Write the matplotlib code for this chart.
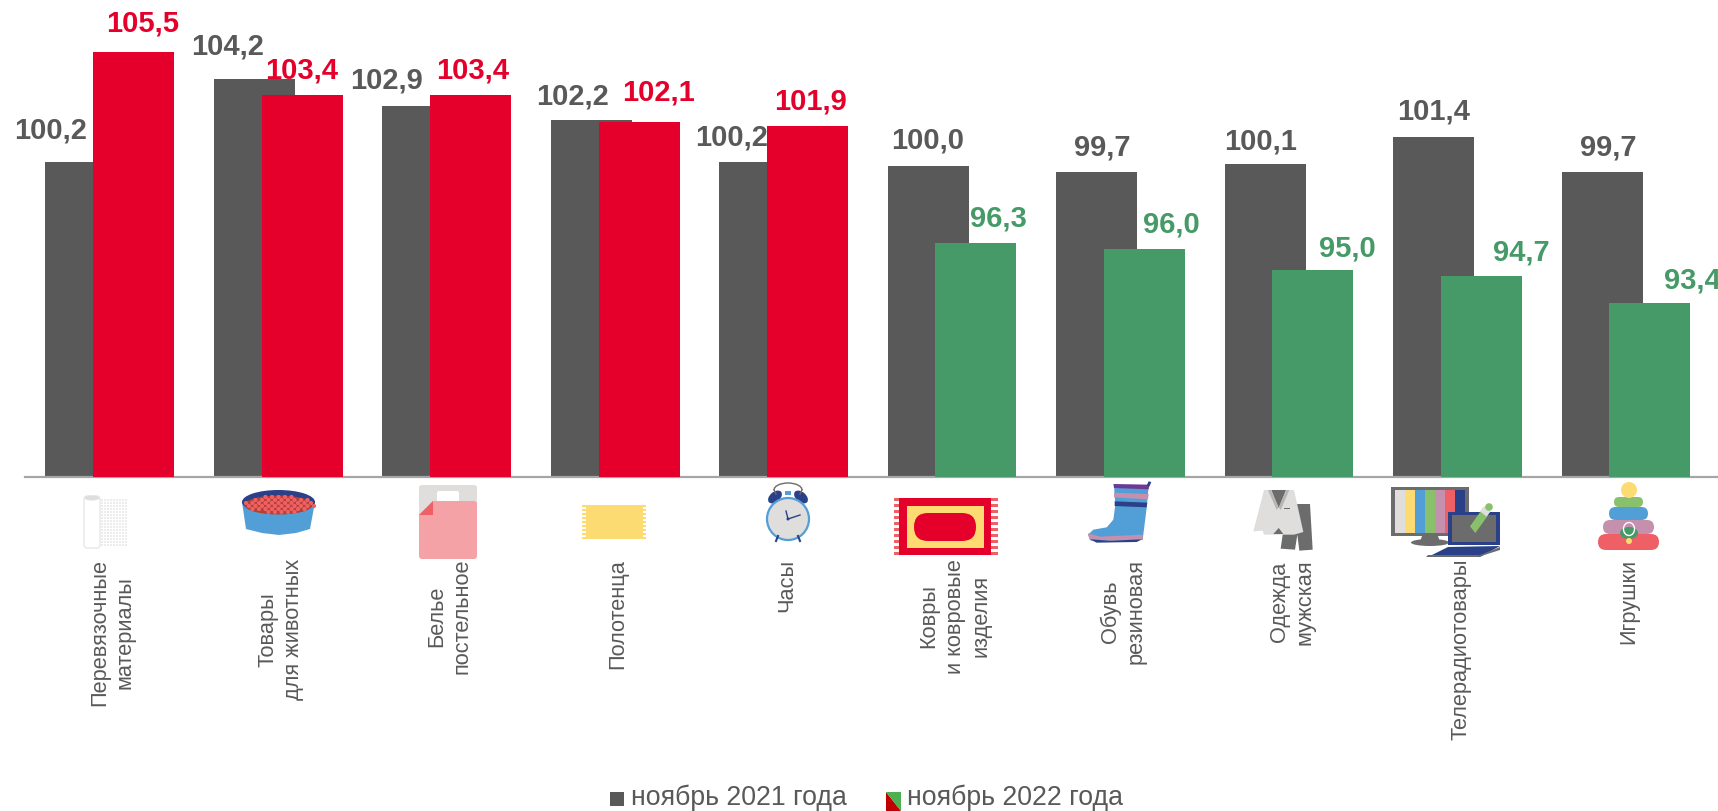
"""Индексы цен: столбцы по группам товаров, ноябрь 2021 и ноябрь 2022."""

import matplotlib

matplotlib.use("Agg")
import matplotlib.pyplot as plt
from matplotlib.patches import Arc, Circle, Ellipse, FancyBboxPatch, Polygon, Rectangle

plt.rcParams["font.family"] = ["Liberation Sans", "DejaVu Sans"]

GRAY = "#595959"
RED = "#e4002b"
GREEN = "#459a67"
BLUE = "#529fd7"
NAVY = "#2a4088"
PINK = "#c58fae"
CORAL = "#ee6065"
YELLOW = "#fddb73"
LGREEN = "#88c06b"
LGRAY = "#dfdedd"
DGRAY = "#6c6c6c"

categories = [
    "Перевязочные\nматериалы",
    "Товары\nдля животных",
    "Белье\nпостельное",
    "Полотенца",
    "Часы",
    "Ковры\nи ковровые\nизделия",
    "Обувь\nрезиновая",
    "Одежда\nмужская",
    "Телерадиотовары",
    "Игрушки",
]
values_2021 = [100.2, 104.2, 102.9, 102.2, 100.2, 100.0, 99.7, 100.1, 101.4, 99.7]
values_2022 = [105.5, 103.4, 103.4, 102.1, 101.9, 96.3, 96.0, 95.0, 94.7, 93.4]

# сдвиг подписей от центра и верха столбца, px
gray_dx = [-35, -26, -36, -18, -28, 0, 6, -4, 0, 6]
gray_dy = [31, 32, 25, 24, 24, 25, 25, 22, 25, 25]
red_dx = [9, 0, 2, 20, 3, 22, 27, 34, 40, 42]
red_dy = [28, 25, 25, 30, 25, 24, 24, 21, 23, 22]

W, H = 1718, 811
BASE_PX = 477
STEP_PX = 168.5
UNIT_PX = 20.74
Y_MIN = 85.0

fig = plt.figure(figsize=(W / 100, H / 100), dpi=100)
ax = fig.add_axes([0, (H - BASE_PX) / H, 1, BASE_PX / H])
ax.set_xlim(-109.5 / STEP_PX, (W - 109.5) / STEP_PX)
ax.set_ylim(Y_MIN, Y_MIN + BASE_PX / UNIT_PX)
ax.patch.set_alpha(0)

x = list(range(len(categories)))
bar_w = 81 / STEP_PX
shift = 24 / STEP_PX
colors_2022 = [RED if v > 100 else GREEN for v in values_2022]
ax.bar([i - shift for i in x], values_2021, bar_w, color=GRAY, zorder=2)
ax.bar([i + shift for i in x], values_2022, bar_w, color=colors_2022, zorder=3)

for i in x:
    ax.annotate(
        f"{values_2021[i]:.1f}".replace(".", ","),
        (i - shift, values_2021[i]),
        xytext=(gray_dx[i], gray_dy[i]),
        textcoords="offset pixels",
        ha="center",
        va="center",
        fontsize=21,
        fontweight="bold",
        color=GRAY,
        zorder=5,
    )
    ax.annotate(
        f"{values_2022[i]:.1f}".replace(".", ","),
        (i + shift, values_2022[i]),
        xytext=(red_dx[i], red_dy[i]),
        textcoords="offset pixels",
        ha="center",
        va="center",
        fontsize=21,
        fontweight="bold",
        color=colors_2022[i],
        zorder=5,
    )

for side in ("top", "right", "left"):
    ax.spines[side].set_visible(False)
ax.spines["bottom"].set_color("#a6a6a6")
ax.spines["bottom"].set_linewidth(1.6)
ax.spines["bottom"].set_bounds((25 - 109.5) / STEP_PX, (W - 109.5) / STEP_PX)
ax.set_yticks([])
ax.set_xticks([i + 3 / STEP_PX for i in x])
ax.set_xticklabels(
    categories,
    rotation=90,
    ha="center",
    va="top",
    multialignment="center",
    fontsize=15.7,
    color=GRAY,
    linespacing=1.3,
)
ax.tick_params(axis="x", length=0, pad=59)

# слой в пикселях: пиктограммы и легенда
ov = fig.add_axes([0, 0, 1, 1])
ov.set_xlim(0, W)
ov.set_ylim(H, 0)
ov.axis("off")
ov.patch.set_alpha(0)


def rect(x0, y0, x1, y1, color, **kw):
    ov.add_patch(Rectangle((x0, y0), x1 - x0, y1 - y0, fc=color, ec="none", **kw))


def poly(pts, color, ox=0, oy=0, k=1.0):
    ov.add_patch(Polygon([(ox + a * k, oy + b * k) for a, b in pts], fc=color, ec="none"))


def pill(x0, y0, x1, y1, color, r=None):
    r = (y1 - y0) / 2 if r is None else r
    ov.add_patch(
        FancyBboxPatch(
            (x0 + r, y0 + r), x1 - x0 - 2 * r, y1 - y0 - 2 * r,
            boxstyle=f"round,pad={r},rounding_size={r}", fc=color, ec="none",
        )
    )


# бинт
for a in range(101, 127, 3):
    for b in range(499, 546, 3):
        rect(a, b, a + 2, b + 2, "#ececec")
ov.add_patch(FancyBboxPatch((86, 498), 12, 48, boxstyle="round,pad=2,rounding_size=3", fc="white", ec="#e8e8e8", lw=1))
ov.add_patch(Ellipse((92, 498), 15, 5, fc=LGRAY, ec="none"))

# миска
poly([(242, 502), (315, 502), (310, 529), (296, 533), (279, 535), (262, 533), (246, 529)], BLUE)
ov.add_patch(Ellipse((278.5, 502), 73, 24, fc=NAVY, ec="none"))
ov.add_patch(Ellipse((278.5, 505), 68, 19, fc="#b5402f", ec="none"))
for row, (cy, half) in enumerate([(497, 14), (500, 24), (503, 30), (506, 30), (509, 24), (512, 14)]):
    n = half // 6
    for j in range(-n, n + 1):
        ov.add_patch(Circle((278.5 + j * 6.5 + (row % 2) * 3, cy), 2.1, fc=CORAL, ec="none"))

# белье
pill(419, 485, 477, 520, LGRAY, r=3)
pill(437, 491, 459, 506, "white", r=2)
ov.add_patch(
    FancyBboxPatch((422, 504), 52, 52, boxstyle="round,pad=3,rounding_size=3", fc="#f5a2a6", ec="none")
)
poly([(419, 501), (433, 501), (419, 515)], LGRAY)
poly([(419, 515), (433, 501), (433, 515)], CORAL)

# полотенце
rect(586, 505, 643, 539, YELLOW)
for b in range(505, 540, 4):
    rect(582, b, 586, b + 2, YELLOW)
    rect(643, b, 646, b + 2, YELLOW)

# часы
ov.add_patch(Arc((788, 490), 28, 14, theta1=180, theta2=360, ec=DGRAY, lw=1))
ov.plot([774, 776], [490, 494], color=DGRAY, lw=1)
ov.plot([802, 800], [490, 494], color=DGRAY, lw=1)
ov.add_patch(Ellipse((775, 497), 10, 16, angle=50, fc=NAVY, ec="none"))
ov.add_patch(Ellipse((801, 497), 10, 16, angle=-50, fc=NAVY, ec="none"))
rect(785, 491, 791, 495, BLUE)
ov.plot([778, 776], [536, 541], color=NAVY, lw=1.5)
ov.plot([798, 800], [536, 541], color=NAVY, lw=1.5)
ov.add_patch(Circle((788, 519), 21, fc=LGRAY, ec=BLUE, lw=1.6))
ov.plot([788, 786], [519, 511], color=NAVY, lw=1)
ov.plot([788, 800], [519, 515], color=NAVY, lw=1)
ov.add_patch(Circle((788, 519), 1.5, fc=NAVY, ec="none"))

# ковер
rect(899, 498, 991, 555, RED)
for b in range(498, 556, 6):
    rect(894, b, 899, b + 2.5, CORAL)
    rect(991, b, 998, b + 2.5, CORAL)
rect(907, 506, 984, 548, YELLOW)
pill(914, 513, 976, 541, RED)

# сапог (координаты кропа 3x)
ox, oy, k = 880, 478, 1 / 3
poly(
    [(702, 22), (806, 22), (800, 90), (788, 185), (632, 188), (624, 170), (640, 155),
     (680, 148), (700, 125), (706, 80)],
    BLUE, ox, oy, k,
)
poly([(700, 18), (808, 20), (806, 34), (702, 30)], "#6c3a94", ox, oy, k)
poly([(702, 44), (806, 48), (804, 64), (702, 58)], PINK, ox, oy, k)
poly([(704, 70), (802, 74), (800, 88), (704, 84)], NAVY, ox, oy, k)
poly([(624, 166), (660, 176), (788, 170), (788, 186), (690, 188), (628, 184)], PINK, ox, oy, k)
poly([(630, 184), (690, 188), (786, 184), (770, 192), (650, 194)], NAVY, ox, oy, k)
poly([(800, 22), (806, 10), (814, 12), (808, 26)], NAVY, ox, oy, k)

# костюм
ox, oy = 1240, 478
poly([(172, 78), (210, 78), (218, 215), (178, 218), (172, 170), (165, 215), (122, 212), (128, 170)], DGRAY, ox, oy, k)
poly([(72, 36), (162, 36), (190, 162), (162, 170), (72, 170), (68, 158), (40, 160)], LGRAY, ox, oy, k)
poly([(94, 36), (138, 36), (116, 90)], DGRAY, ox, oy, k)
poly([(84, 36), (92, 36), (116, 88), (110, 96)], "#b5b5b5", ox, oy, k)
poly([(148, 36), (140, 36), (116, 88), (122, 96)], "#b5b5b5", ox, oy, k)
poly([(100, 168), (116, 150), (130, 168)], DGRAY, ox, oy, k)
poly([(132, 89), (150, 89), (150, 93), (132, 93)], DGRAY, ox, oy, k)

# телевизор и ноутбук
rect(1391, 487, 1469, 536, DGRAY)
for j, c in enumerate([LGRAY, YELLOW, BLUE, LGREEN, PINK, CORAL, NAVY]):
    rect(1395 + j * 10, 490, 1405 + j * 10, 533, c)
poly([(1422, 536), (1438, 536), (1440, 542), (1420, 542)], DGRAY)
ov.add_patch(Ellipse((1430, 542.5), 38, 7, fc=DGRAY, ec="none"))
rect(1448, 512, 1500, 545, NAVY)
rect(1452, 515, 1496, 542, DGRAY)
poly([(1448, 547), (1500, 546), (1480, 557), (1428, 557)], NAVY)
poly([(1428, 555), (1480, 555), (1500, 547), (1500, 550), (1478, 557), (1426, 557)], DGRAY)
poly([(690, 145), (722, 100), (742, 115), (706, 165)], LGREEN, ox, oy, k)
poly([(720, 100), (732, 84), (752, 100), (740, 116)], LGRAY, ox, oy, k)
ov.add_patch(Circle((1489, 507), 3.8, fc=LGREEN, ec="none"))

# пирамидка
pill(1598, 534, 1659, 550, CORAL)
pill(1603, 520, 1654, 534, PINK)
pill(1609, 507, 1648, 520, BLUE)
pill(1614, 497, 1643, 507, LGREEN)
ov.add_patch(Circle((1629, 490), 8, fc=YELLOW, ec="none"))
ov.add_patch(Ellipse((1629, 533), 18, 12, fc=GREEN, ec="none"))
ov.add_patch(Arc((1629, 529), 11, 13, ec="white", lw=1))
ov.add_patch(Circle((1629, 541), 3, fc=YELLOW, ec="none"))

# легенда
rect(610, 792, 624, 806, GRAY)
poly([(886, 792), (901, 811), (886, 811)], "#c00000")
poly([(886, 792), (901, 792), (901, 811)], "#4caf50")
ov.text(631, 805, "ноябрь 2021 года", fontsize=19.2, color=GRAY, va="baseline", ha="left")
ov.text(907, 805, "ноябрь 2022 года", fontsize=19.2, color=GRAY, va="baseline", ha="left")

fig.savefig("out.png", dpi=100, facecolor="white")
plt.close(fig)
